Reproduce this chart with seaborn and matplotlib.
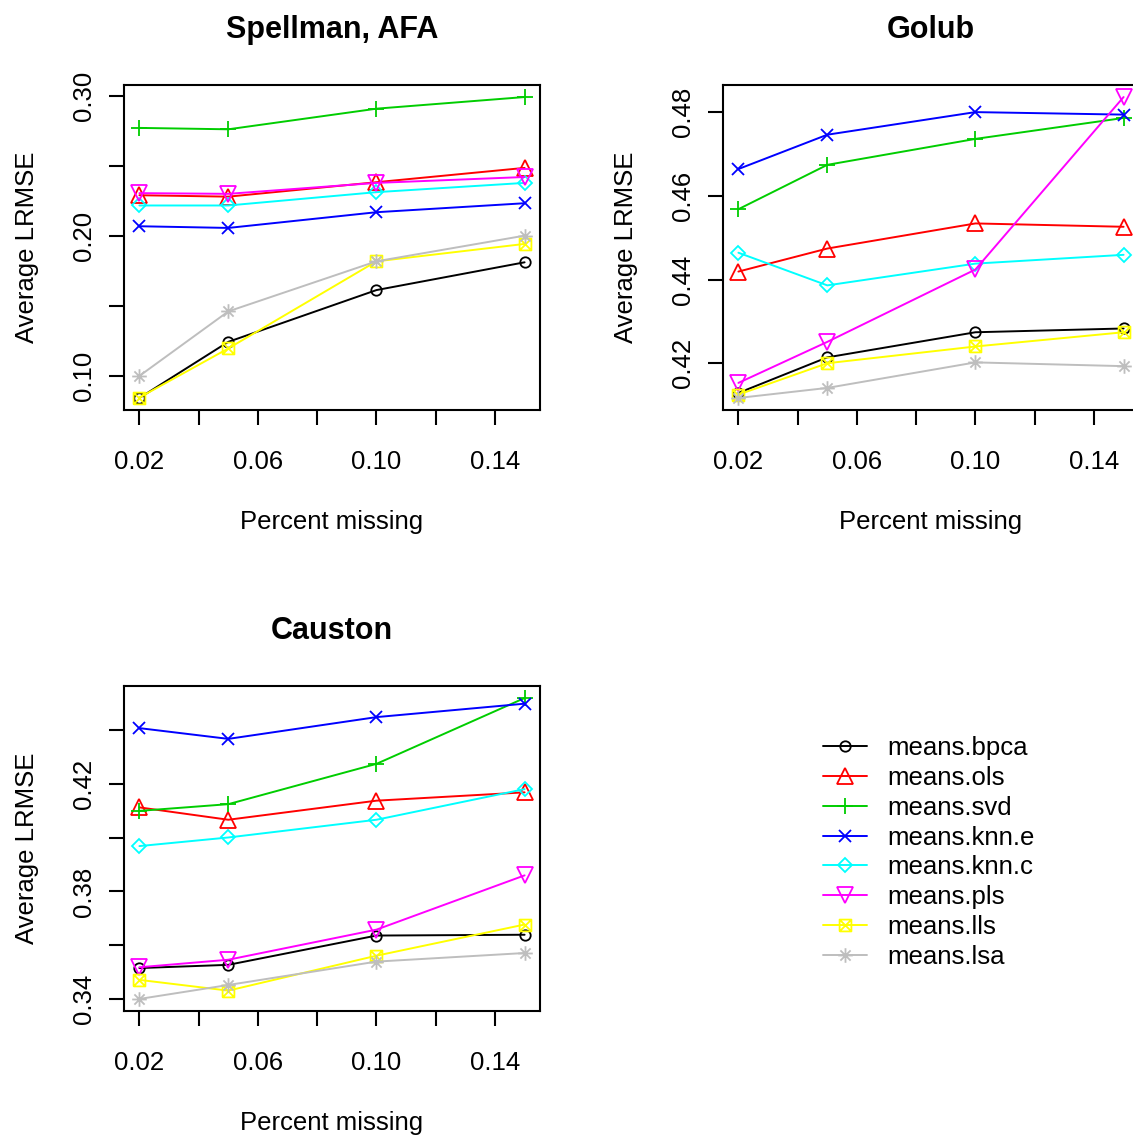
import seaborn as sns
import matplotlib.pyplot as plt
from matplotlib.path import Path

# percent of values removed
pct = [0.02, 0.05, 0.10, 0.15]

methods = ['means.bpca', 'means.ols', 'means.svd', 'means.knn.e',
           'means.knn.c', 'means.pls', 'means.lls', 'means.lsa']

# average LRMSE per method (same order as methods)
spellman = [
    [0.0845, 0.1245, 0.1614, 0.1812],
    [0.2290, 0.2280, 0.2383, 0.2485],
    [0.2770, 0.2760, 0.2907, 0.2990],
    [0.2069, 0.2057, 0.2169, 0.2233],
    [0.2217, 0.2217, 0.2312, 0.2378],
    [0.2305, 0.2300, 0.2378, 0.2420],
    [0.0848, 0.1198, 0.1819, 0.1943],
    [0.1002, 0.1462, 0.1819, 0.2002],
]
golub = [
    [0.4129, 0.4214, 0.4274, 0.4283],
    [0.4419, 0.4474, 0.4534, 0.4526],
    [0.4568, 0.4674, 0.4736, 0.4786],
    [0.4664, 0.4746, 0.4800, 0.4794],
    [0.4464, 0.4386, 0.4438, 0.4459],
    [0.4153, 0.4251, 0.4424, 0.4836],
    [0.4125, 0.4200, 0.4240, 0.4274],
    [0.4117, 0.4141, 0.4202, 0.4193],
]
causton = [
    [0.3515, 0.3527, 0.3636, 0.3639],
    [0.4113, 0.4067, 0.4138, 0.4169],
    [0.4100, 0.4125, 0.4275, 0.4520],
    [0.4408, 0.4368, 0.4449, 0.4499],
    [0.3969, 0.4001, 0.4067, 0.4181],
    [0.3518, 0.3546, 0.3658, 0.3860],
    [0.3471, 0.3431, 0.3561, 0.3677],
    [0.3400, 0.3452, 0.3539, 0.3571],
]

# R default palette
colors = ['black', '#FF0000', '#00CD00', '#0000FF', '#00FFFF', '#FF00FF', '#FFFF00', '#BEBEBE']

# R pch 7 (boxed x) and pch 8 (asterisk)
box_x = Path([(-1, -1), (1, -1), (1, 1), (-1, 1), (-1, -1), (-1, -1), (1, 1), (-1, 1), (1, -1)],
             [Path.MOVETO, Path.LINETO, Path.LINETO, Path.LINETO, Path.LINETO,
              Path.MOVETO, Path.LINETO, Path.MOVETO, Path.LINETO])
star = Path([(-1, 0), (1, 0), (0, -1), (0, 1), (-0.7, -0.7), (0.7, 0.7), (-0.7, 0.7), (0.7, -0.7)],
            [Path.MOVETO, Path.LINETO, Path.MOVETO, Path.LINETO,
             Path.MOVETO, Path.LINETO, Path.MOVETO, Path.LINETO])
markers = ['o', '^', '+', 'x', 'D', 'v', box_x, star]
msizes = [7.5, 11, 11, 8.5, 7.6, 11, 8.5, 10.5]

sns.set_style('ticks')
plt.rcParams['font.family'] = ['Liberation Sans', 'DejaVu Sans']
plt.rcParams['axes.linewidth'] = 1.5
plt.rcParams['text.color'] = 'black'
plt.rcParams['axes.labelcolor'] = 'black'
plt.rcParams['xtick.color'] = 'black'
plt.rcParams['ytick.color'] = 'black'

fig = plt.figure(figsize=(11.33, 11.35), dpi=100)
W, H = 1133, 1135

panels = [
    ('Spellman, AFA', spellman, (124, 85), [0.10, 0.15, 0.20, 0.25, 0.30], ['0.10', '', '0.20', '', '0.30']),
    ('Golub', golub, (723, 85), [0.42, 0.44, 0.46, 0.48], ['0.42', '0.44', '0.46', '0.48']),
    ('Causton', causton, (124, 686), [0.34, 0.36, 0.38, 0.40, 0.42, 0.44],
     ['0.34', '', '0.38', '', '0.42', '']),
]

axes = []
for title, vals, (x0, y0), yt, ytl in panels:
    ax = fig.add_axes([x0 / W, 1 - (y0 + 325) / H, 416 / W, 325 / H])
    for i, m in enumerate(methods):
        sns.lineplot(x=pct, y=vals[i], ax=ax, color=colors[i], marker=markers[i],
                     markersize=msizes[i], markerfacecolor='none',
                     markeredgecolor=colors[i], markeredgewidth=1.3, linewidth=1.4)
    ax.margins(x=0.04, y=0.04)
    ax.set_xticks([0.02, 0.04, 0.06, 0.08, 0.10, 0.12, 0.14])
    ax.set_xticklabels(['0.02', '', '0.06', '', '0.10', '', '0.14'])
    ax.set_yticks(yt)
    ax.set_yticklabels(ytl)
    ax.tick_params(axis='both', direction='out', length=11, width=1.5, labelsize=18.5, color='black')
    ax.tick_params(axis='x', pad=18)
    ax.tick_params(axis='y', pad=9, labelrotation=90)
    plt.setp(ax.get_yticklabels(), va='center')
    ax.set_xlabel('Percent missing', fontsize=18.5, labelpad=26)
    ax.set_ylabel('Average LRMSE', fontsize=18.5, labelpad=24)
    ax.set_title(title, fontsize=22, fontweight='bold', pad=34)
    for s in ax.spines.values():
        s.set_color('black')
        s.set_linewidth(1.5)
    axes.append(ax)

fig.legend(handles=axes[0].lines[:len(methods)], labels=methods, loc='upper left',
           bbox_to_anchor=(810 / W, 1 - 723 / H), frameon=False, fontsize=18.5,
           handlelength=1.7, handletextpad=0.8, labelspacing=0.23, borderpad=0)

fig.savefig('out.png', dpi=100, facecolor='white')
